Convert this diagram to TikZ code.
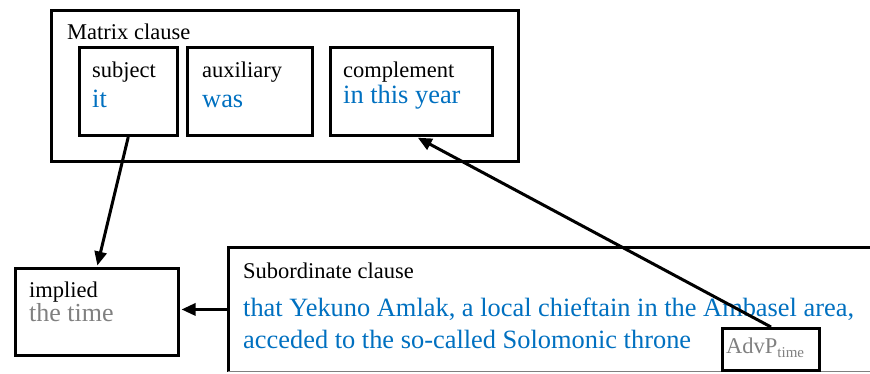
\documentclass[tikz,border=0pt]{standalone}
\usepackage{fontspec}
\setmainfont{Liberation Serif}
\usetikzlibrary{arrows.meta}
\definecolor{txtblue}{RGB}{0,112,192}
\definecolor{txtgray}{RGB}{128,128,128}
\begin{document}
\begin{tikzpicture}[x=1pt,y=-1pt,
  box/.style={draw, line width=3pt, rectangle, inner sep=0pt, anchor=north west},
  lab/.style={anchor=base west, inner sep=0pt, font=\fontsize{22.5}{27}\selectfont},
  blu/.style={anchor=base west, inner sep=0pt, text=txtblue, font=\fontsize{26.4}{32}\selectfont},
  gry/.style={anchor=base west, inner sep=0pt, text=txtgray, font=\fontsize{26}{32}\selectfont},
  conn/.style={line width=3pt, shorten >=1.5pt, -{Triangle[length=14pt,width=12pt]}}]
\useasboundingbox (0,0) rectangle (870,373);
\clip (0,0) rectangle (870,373);
% matrix clause
\node[box, minimum width=467pt, minimum height=151.5pt] (mat) at (50,8.5) {};
\node[lab] (matlab) at (67,39) {Matrix clause};
\node[box, minimum width=98.5pt, minimum height=88pt] (subj) at (77.5,46) {};
\node[box, minimum width=125.5pt, minimum height=88pt] (aux) at (185.5,46) {};
\node[box, minimum width=162pt, minimum height=88pt] (comp) at (329,46) {};
\node[lab] (subjlab) at (92,77) {subject};
\node[blu] (subjtxt) at (92,107) {it};
\node[lab] (auxlab) at (202,77) {auxiliary};
\node[blu] (auxtxt) at (202,107) {was};
\node[lab] (complab) at (343,77) {complement};
\node[blu] (comptxt) at (343,103) {in this year};
% implied
\node[box, minimum width=163pt, minimum height=87pt] (impl) at (14,267) {};
\node[lab] (impllab) at (29,297) {implied};
\node[gry] (impltxt) at (29,321) {the time};
% subordinate clause
\node[rectangle, inner sep=0pt, anchor=north west, minimum width=700pt, minimum height=124.5pt] (sub) at (228,247) {};
\draw[line width=3pt] (sub.south west) -- (sub.north west) -- (sub.north east);
\draw[txtgray, line width=1pt] (sub.south west) -- (sub.south east);
\node[lab] (sublab) at (243,278) {Subordinate clause};
\node[blu] (subtxt1) at (243,316) {that Yekuno Amlak, a local chieftain in the Ambasel area,};
\node[blu] (subtxt2) at (243,348) {acceded to the so-called Solomonic throne};
% AdvP
\node[box, fill=white, minimum width=97pt, minimum height=42pt] (advp) at (721,327) {};
\node[lab, text=txtgray] (advtxt) at (726,353) {AdvP{\fontsize{15}{18}\selectfont\raisebox{-4pt}{time}}};
% connectors
\draw[conn] (subj.south) -- (impl.north);
\draw[conn] (advp.north) -- ([xshift=5pt]comp.south);
\draw[conn] (sub.west) -- (sub.west -| impl.east);
\end{tikzpicture}
\end{document}
